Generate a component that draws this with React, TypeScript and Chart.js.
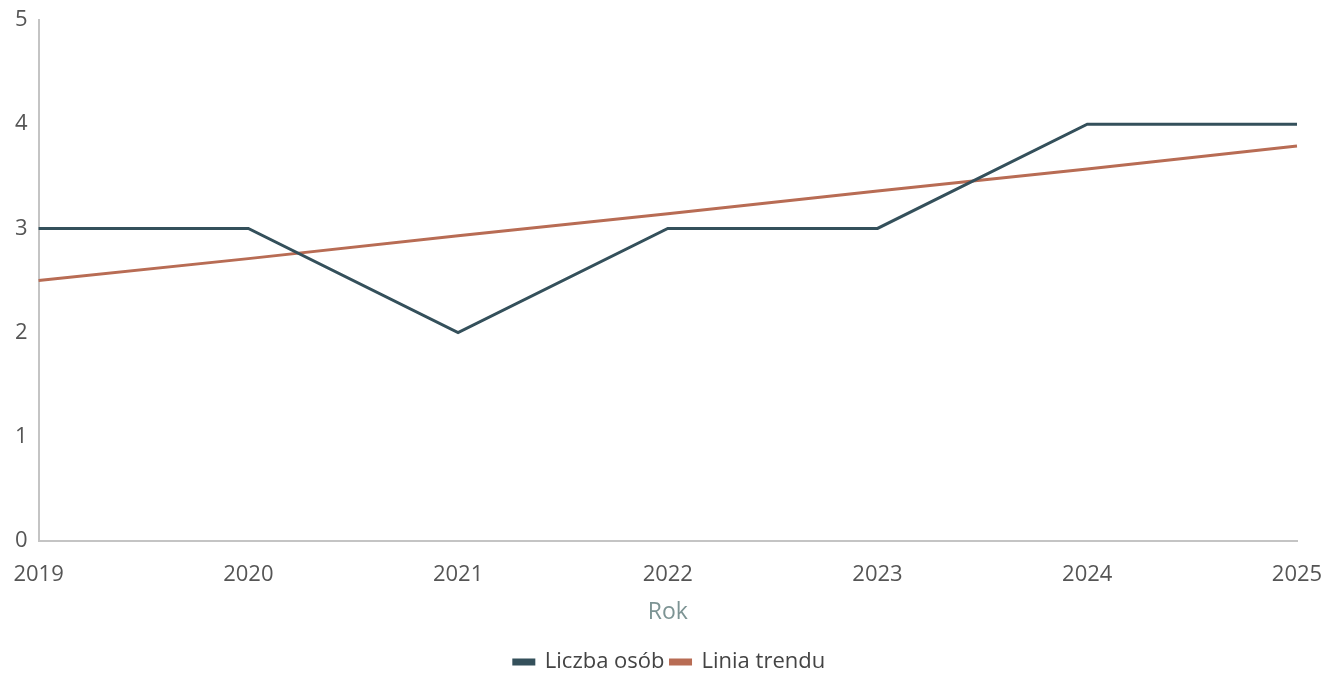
import React, { useEffect, useRef } from "react";
import { Chart, registerables } from "chart.js";

Chart.register(...registerables);

const years = ["2019", "2020", "2021", "2022", "2023", "2024", "2025"];
const liczbaOsob = [3, 3, 2, 3, 3, 4, 4];
const liniaTrendu = [2.5, 2.71, 2.93, 3.14, 3.36, 3.57, 3.79];
const yTicks = [0, 1, 2, 3, 4, 5];

const legendShift = {
  id: "legendShift",
  afterLayout(chart: any) {
    if (chart.legend) {
      chart.legend.left += 15;
      chart.legend.right += 15;
    }
  },
};

export default function App() {
  const ref = useRef<HTMLCanvasElement>(null);
  useEffect(() => {
    document.body.style.margin = "0";
    const font = "'Open Sans', 'Noto Sans', sans-serif";
    const chart = new Chart(ref.current!, {
      type: "line",
      data: {
        labels: years,
        datasets: [
          {
            label: "Liczba osób",
            data: liczbaOsob,
            borderColor: "#34505b",
            backgroundColor: "#34505b",
            borderWidth: 3,
            pointRadius: 0,
            tension: 0,
          },
          {
            label: "Linia trendu",
            data: liniaTrendu,
            borderColor: "#b86c54",
            backgroundColor: "#b86c54",
            borderWidth: 3,
            pointRadius: 0,
            tension: 0,
          },
        ],
      },
      plugins: [legendShift],
      options: {
        animation: false,
        responsive: false,
        layout: { autoPadding: false, padding: { top: 20, right: 29, left: 12, bottom: -10 } },
        plugins: {
          tooltip: { enabled: false },
          legend: {
            position: "bottom",
            labels: {
              color: "#444",
              font: { family: font, size: 22 },
              boxWidth: 20,
              boxHeight: 4,
              padding: 6,
            },
          },
        },
        scales: {
          x: {
            afterFit: (s: any) => {
              s.paddingRight = 0;
            },
            grid: { display: false },
            border: { display: true, color: "#c4c4c4", width: 2 },
            ticks: { color: "#555", font: { family: font, size: 22 }, padding: 13, maxRotation: 0 },
            title: { display: true, text: "Rok", color: "#7d9494", font: { family: font, size: 23 }, padding: { top: -3, bottom: 19 } },
          },
          y: {
            min: 0,
            max: 5,
            afterBuildTicks: (axis: any) => {
              axis.ticks = yTicks.map((v) => ({ value: v }));
            },
            grid: { display: false },
            border: { display: true, color: "#c4c4c4", width: 2 },
            ticks: { color: "#555", font: { family: font, size: 22 }, padding: 3 },
          },
        },
      },
    });
    return () => chart.destroy();
  }, []);
  return <canvas ref={ref} width={1326} height={673} style={{ display: "block" }} />;
}
